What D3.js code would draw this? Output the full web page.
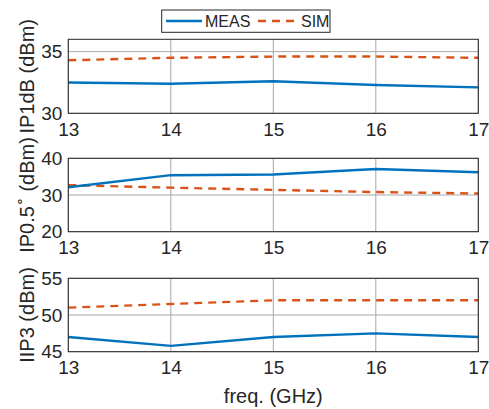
<!DOCTYPE html>
<html>
<head>
<meta charset="utf-8">
<script src="https://cdn.jsdelivr.net/npm/d3@7"></script>
<style>
  body { margin: 0; background: #fff; }
  text { font-family: "Liberation Sans", Arial, sans-serif; fill: #262626; }
</style>
</head>
<body>
<div id="chart"></div>
<script>
// data
const freq = [13, 14, 15, 16, 17];
const xTicks = [13, 14, 15, 16, 17];

const ip1dbMeas = [32.5, 32.4, 32.6, 32.3, 32.1];
const ip1dbSim = [34.3, 34.5, 34.6, 34.6, 34.5];
const ip1dbTicks = [30, 35];

const ip05Meas = [32.1, 35.4, 35.6, 37.1, 36.2];
const ip05Sim = [32.7, 32.0, 31.4, 30.8, 30.4];
const ip05Ticks = [20, 30, 40];

const iip3Meas = [47.0, 45.8, 47.0, 47.5, 47.0];
const iip3Sim = [51.0, 51.5, 52.0, 52.0, 52.0];
const iip3Ticks = [45, 50, 55];

const seriesNames = ['MEAS', 'SIM'];
const measColor = '#0072BD';
const simColor = '#D95319';

const W = 489, H = 409;
const left = 68.3, right = 478.3;

const svg = d3.select('#chart')
    .append('svg')
    .attr('width', W)
    .attr('height', H);

const x = d3.scaleLinear()
    .domain([13, 17])
    .range([left, right]);

function panel(top, bottom, domain, ticks, meas, sim, label) {
    const y = d3.scaleLinear()
        .domain(domain)
        .range([bottom, top]);

    const g = svg.append('g');

    // grid
    g.selectAll('.vgrid')
        .data(xTicks)
        .enter()
        .append('line')
        .attr('x1', d => x(d))
        .attr('x2', d => x(d))
        .attr('y1', top)
        .attr('y2', bottom)
        .attr('stroke', '#a8a8a8')
        .attr('stroke-width', 1);

    g.selectAll('.hgrid')
        .data(ticks)
        .enter()
        .append('line')
        .attr('x1', left)
        .attr('x2', right)
        .attr('y1', d => y(d))
        .attr('y2', d => y(d))
        .attr('stroke', '#a8a8a8')
        .attr('stroke-width', 1);

    // axes (tick labels only, matlab style)
    g.append('g')
        .attr('transform', `translate(0, ${bottom})`)
        .call(d3.axisBottom(x).tickValues(xTicks).tickFormat(d3.format('d')).tickSize(0).tickPadding(9))
        .call(a => a.select('.domain').remove())
        .selectAll('text')
        .style('font-size', '19px')
        .attr('fill', '#262626');

    g.append('g')
        .attr('transform', `translate(${left}, 0)`)
        .call(d3.axisLeft(y).tickValues(ticks).tickFormat(d3.format('d')).tickSize(0).tickPadding(6))
        .call(a => a.select('.domain').remove())
        .selectAll('text')
        .style('font-size', '19px')
        .attr('fill', '#262626');

    const line = d3.line()
        .x((d, i) => x(freq[i]))
        .y(d => y(d));

    g.append('path')
        .datum(sim)
        .attr('d', line)
        .attr('fill', 'none')
        .attr('stroke', simColor)
        .attr('stroke-width', 2.4)
        .attr('stroke-dasharray', '8,6');

    g.append('path')
        .datum(meas)
        .attr('d', line)
        .attr('fill', 'none')
        .attr('stroke', measColor)
        .attr('stroke-width', 2.4);

    // box
    g.append('rect')
        .attr('x', left)
        .attr('y', top)
        .attr('width', right - left)
        .attr('height', bottom - top)
        .attr('fill', 'none')
        .attr('stroke', '#262626')
        .attr('stroke-width', 1);

    // y label
    const t = g.append('text')
        .attr('transform', `translate(34, ${(top + bottom) / 2}) rotate(-90)`)
        .attr('text-anchor', 'middle')
        .style('font-size', '20px');
    label(t);
}

panel(39.3, 113.3, [30, 36], ip1dbTicks, ip1dbMeas, ip1dbSim,
    t => t.text('IP1dB (dBm)'));

panel(158.3, 231.7, [20, 40], ip05Ticks, ip05Meas, ip05Sim, t => {
    t.append('tspan').text('IP0.5');
    t.append('tspan').text('\u2218').style('font-size', '14px').attr('dy', -10);
    t.append('tspan').text('\u00a0(dBm)').attr('dy', 10);
});

panel(278.3, 351.7, [45, 55], iip3Ticks, iip3Meas, iip3Sim,
    t => t.text('IIP3 (dBm)'));

svg.append('text')
    .attr('x', (left + right) / 2)
    .attr('y', 403)
    .attr('text-anchor', 'middle')
    .style('font-size', '20px')
    .text('freq. (GHz)');

// legend
const lg = svg.append('g');
lg.append('rect')
    .attr('x', 161.7)
    .attr('y', 10)
    .attr('width', 168.3)
    .attr('height', 22.3)
    .attr('fill', '#fff')
    .attr('stroke', '#262626')
    .attr('stroke-width', 1);

const legendItems = [
    { name: seriesNames[0], color: measColor, dash: null, x0: 166, x1: 202 },
    { name: seriesNames[1], color: simColor, dash: '8,6', x0: 258, x1: 298 }
];
legendItems.forEach(d => {
    lg.append('line')
        .attr('x1', d.x0)
        .attr('x2', d.x1)
        .attr('y1', 21)
        .attr('y2', 21)
        .attr('stroke', d.color)
        .attr('stroke-width', 2.4)
        .attr('stroke-dasharray', d.dash);
    lg.append('text')
        .attr('x', d.x1 + 3)
        .attr('y', 27)
        .style('font-size', '16px')
        .text(d.name);
});
</script>
</body>
</html>
